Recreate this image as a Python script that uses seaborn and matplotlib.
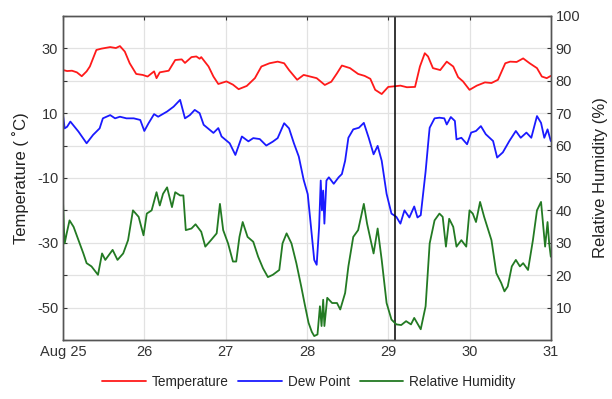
"""
Temperature, dew point and relative humidity, Aug 25 - 31.
"""
import pandas as pd
import seaborn as sns
import matplotlib.pyplot as plt
from matplotlib.ticker import MultipleLocator

temp_day = [25.00, 25.05, 25.11, 25.17, 25.23, 25.29, 25.33, 25.41, 25.47, 25.58,
            25.65, 25.70, 25.76, 25.82, 25.90, 25.98, 26.04, 26.12, 26.15, 26.19,
            26.30, 26.38, 26.46, 26.50, 26.58, 26.64, 26.68, 26.70, 26.79, 26.85,
            26.91, 27.01, 27.09, 27.16, 27.26, 27.36, 27.44, 27.54, 27.64, 27.72,
            27.78, 27.88, 27.96, 28.04, 28.12, 28.22, 28.30, 28.37, 28.43, 28.53,
            28.63, 28.71, 28.78, 28.84, 28.92, 29.00, 29.08, 29.15, 29.23, 29.33,
            29.39, 29.45, 29.49, 29.55, 29.64, 29.72, 29.80, 29.86, 29.92, 30.00,
            30.09, 30.19, 30.27, 30.35, 30.44, 30.50, 30.58, 30.66, 30.74, 30.83,
            30.89, 30.95, 31.00]
temp_val = [23.3, 23.0, 23.1, 22.6, 21.4, 22.9, 24.4, 29.5, 29.9, 30.4,
            30.1, 30.7, 29.0, 25.4, 22.1, 21.8, 21.3, 22.9, 20.8, 22.6,
            23.1, 26.4, 26.6, 25.5, 27.3, 27.5, 26.8, 27.3, 24.4, 21.3,
            19.0, 19.8, 18.8, 17.4, 18.4, 20.8, 24.4, 25.4, 25.9, 25.4,
            23.3, 20.3, 21.8, 21.3, 20.8, 18.7, 19.7, 22.3, 24.7, 23.9,
            22.1, 21.5, 20.6, 17.2, 15.9, 18.1, 18.3, 18.5, 18.0, 18.1,
            24.4, 28.5, 27.5, 23.9, 23.3, 25.9, 24.4, 21.1, 19.8, 17.2,
            18.5, 19.5, 19.3, 20.3, 25.4, 25.9, 25.8, 26.9, 25.4, 23.9,
            21.3, 20.8, 21.5]

dew_day = [25.00, 25.02, 25.05, 25.09, 25.19, 25.29, 25.37, 25.45, 25.49, 25.58,
           25.64, 25.70, 25.78, 25.87, 25.95, 26.00, 26.05, 26.12, 26.17, 26.28,
           26.36, 26.44, 26.50, 26.56, 26.62, 26.68, 26.73, 26.85, 26.91, 26.95,
           27.05, 27.12, 27.20, 27.28, 27.34, 27.42, 27.50, 27.58, 27.64, 27.72,
           27.78, 27.84, 27.90, 27.96, 28.01, 28.05, 28.09, 28.12, 28.15, 28.17,
           28.185, 28.20, 28.215, 28.24, 28.27, 28.33, 28.39, 28.43, 28.47, 28.51,
           28.57, 28.64, 28.70, 28.76, 28.82, 28.87, 28.92, 28.98, 29.04, 29.10,
           29.15, 29.20, 29.26, 29.32, 29.36, 29.40, 29.46, 29.50, 29.51, 29.57,
           29.63, 29.69, 29.72, 29.77, 29.82, 29.84, 29.90, 29.97, 30.02, 30.08,
           30.14, 30.20, 30.29, 30.34, 30.41, 30.49, 30.57, 30.63, 30.70, 30.76,
           30.83, 30.88, 30.92, 30.96, 31.00]
dew_val = [9.4, 5.3, 5.8, 7.4, 4.3, 0.7, 3.3, 5.3, 8.4, 9.4,
           8.4, 8.9, 8.4, 8.4, 7.9, 4.5, 6.8, 9.7, 8.9, 10.5,
           12.0, 14.1, 8.4, 9.4, 11.0, 10.0, 6.4, 3.9, 5.4, 2.8,
           0.7, -2.9, 2.8, 1.3, 2.3, 2.0, 0.0, 1.2, 2.3, 6.9,
           5.3, 0.7, -3.4, -10.6, -15.0, -25.1, -35.3, -36.8, -25.1, -10.8,
           -20.0, -13.9, -24.1, -10.8, -9.8, -11.8, -9.8, -8.8, -4.7, 2.4,
           5.0, 5.5, 7.0, 2.4, -2.7, -0.1, -4.7, -14.9, -21.0, -22.0,
           -24.1, -20.0, -22.2, -18.8, -22.2, -21.5, -8.0, 3.0, 5.5, 8.4,
           8.6, 8.4, 6.5, 8.8, 7.6, 1.9, 2.4, 0.4, 4.0, 4.5,
           6.0, 3.5, 1.4, -3.7, -2.1, 1.4, 4.5, 2.4, 4.0, 2.4,
           9.1, 7.0, 2.4, 5.0, 1.4]

rh_day = [25.00, 25.01, 25.02, 25.045, 25.08, 25.13, 25.19, 25.25, 25.29, 25.35,
          25.43, 25.48, 25.52, 25.61, 25.67, 25.74, 25.80, 25.86, 25.93, 25.99,
          26.03, 26.09, 26.15, 26.19, 26.23, 26.28, 26.34, 26.38, 26.44, 26.48,
          26.51, 26.58, 26.63, 26.70, 26.75, 26.82, 26.89, 26.93, 26.97, 27.03,
          27.09, 27.13, 27.17, 27.21, 27.27, 27.34, 27.40, 27.46, 27.52, 27.58,
          27.66, 27.70, 27.75, 27.81, 27.87, 27.93, 27.97, 28.02, 28.06, 28.09,
          28.13, 28.16, 28.18, 28.20, 28.215, 28.25, 28.31, 28.37, 28.41, 28.47,
          28.51, 28.57, 28.63, 28.70, 28.74, 28.82, 28.87, 28.92, 28.98, 29.04,
          29.10, 29.16, 29.22, 29.28, 29.32, 29.40, 29.46, 29.51, 29.57, 29.63,
          29.67, 29.71, 29.75, 29.80, 29.84, 29.90, 29.96, 30.00, 30.04, 30.08,
          30.13, 30.18, 30.27, 30.33, 30.39, 30.43, 30.47, 30.52, 30.57, 30.62,
          30.66, 30.72, 30.78, 30.83, 30.88, 30.93, 30.96, 30.98, 31.00]
rh_val = [42.6, 34.9, 29.8, 32.9, 36.9, 34.9, 30.8, 26.7, 23.7, 22.7,
          20.1, 26.7, 24.7, 27.8, 24.7, 26.7, 30.8, 40.0, 38.0, 32.3,
          39.0, 40.0, 45.6, 41.5, 45.1, 47.1, 41.0, 45.6, 44.6, 44.6,
          33.9, 34.4, 35.7, 33.4, 28.8, 30.8, 32.9, 42.0, 33.9, 29.8,
          24.2, 24.2, 31.8, 36.4, 31.8, 30.3, 25.7, 22.1, 19.4, 20.1,
          21.6, 29.8, 32.9, 29.8, 23.7, 16.5, 11.4, 5.3, 2.5, 1.2,
          1.7, 10.4, 4.3, 12.4, 4.3, 13.0, 11.4, 11.4, 9.4, 14.5,
          22.7, 31.8, 33.9, 42.0, 35.9, 26.7, 34.4, 24.7, 11.4, 6.3,
          4.8, 4.6, 5.8, 4.8, 6.8, 3.3, 10.4, 29.8, 36.9, 39.0,
          38.0, 28.8, 37.4, 34.9, 28.8, 30.8, 28.8, 40.0, 39.0, 36.4,
          42.6, 38.0, 30.8, 20.6, 17.6, 15.0, 16.5, 22.7, 24.7, 22.7,
          23.7, 21.6, 30.8, 40.0, 42.6, 28.8, 36.4, 29.8, 25.7]

day_ticks = [25, 26, 27, 28, 29, 30, 31]
day_labels = ['Aug 25', '26', '27', '28', '29', '30', '31']
marker_day = 29.08


def plot_weather() -> None:
    sns.set_style("white")
    plt.rcParams['font.family'] = ['Liberation Sans', 'DejaVu Sans']
    plt.rcParams['axes.unicode_minus'] = False
    edge = '#555555'

    fig = plt.figure(figsize=(6.12, 3.99), dpi=100)
    ax = fig.add_axes([0.103, 0.148, 0.797, 0.812])
    ax2 = ax.twinx()

    temp_df = pd.DataFrame({'day': temp_day, 'value': temp_val})
    dew_df = pd.DataFrame({'day': dew_day, 'value': dew_val})
    rh_df = pd.DataFrame({'day': rh_day, 'value': rh_val})

    sns.lineplot(data=temp_df, x='day', y='value', ax=ax, color='#ff1a1a',
                 lw=1.3, label='Temperature', legend=False)
    sns.lineplot(data=dew_df, x='day', y='value', ax=ax, color='#1a1aff',
                 lw=1.3, label='Dew Point', legend=False)
    sns.lineplot(data=rh_df, x='day', y='value', ax=ax2, color='#237a23',
                 lw=1.3, label='Relative Humidity', legend=False)
    ax.axvline(marker_day, color='black', lw=1.1)

    ax.set_xlim(25, 31)
    ax.set_ylim(-60, 40)
    ax2.set_ylim(0, 100)
    ax.set_xticks(day_ticks)
    ax.set_xticklabels(day_labels)
    ax.set_yticks([-50, -30, -10, 10, 30])
    ax.yaxis.set_minor_locator(MultipleLocator(10))
    ax2.set_yticks(range(10, 101, 10))

    ax.grid(True, which='both', axis='y', color='#e2e2e2', lw=0.9)
    ax.grid(True, which='major', axis='x', color='#e2e2e2', lw=0.9)
    ax.set_axisbelow(True)

    ax.tick_params(axis='both', which='both', direction='in', colors='#333333',
                   labelsize=10.5, length=3, width=0.8, top=True)
    ax.tick_params(axis='y', which='minor', length=3)
    ax2.tick_params(axis='y', direction='in', colors='#333333',
                    labelsize=10.5, length=3, width=0.8)
    for a in (ax, ax2):
        for s in a.spines.values():
            s.set_color(edge)
            s.set_linewidth(1.0)

    ax.set_xlabel('')
    ax.set_ylabel('Temperature ( ˚C)', fontsize=12, color='#222222', labelpad=6)
    ax2.set_ylabel('Relative Humidity (%)', fontsize=12, color='#222222', labelpad=9)

    handles = ax.get_lines()[:2] + ax2.get_lines()[:1]
    labels = ['Temperature', 'Dew Point', 'Relative Humidity']
    fig.legend(handles, labels, loc='center', bbox_to_anchor=(0.505, 0.043),
               ncol=3, frameon=False, fontsize=9.8, handlelength=3.2,
               handletextpad=0.45, columnspacing=0.7)

    fig.savefig('out.png', dpi=100)


def main() -> None:
    plot_weather()


if __name__ == '__main__':
    main()
